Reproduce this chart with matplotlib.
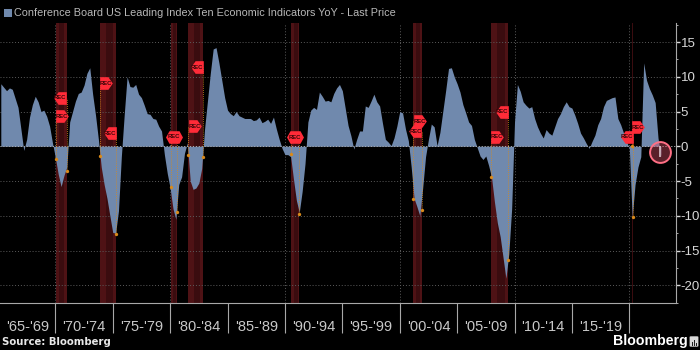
import numpy as np
import matplotlib
matplotlib.use("Agg")
import matplotlib.pyplot as plt
from matplotlib.patches import FancyBboxPatch, Rectangle

# quarterly readings, one row per five year block
yoy_65_69 = [9.0, 8.5, 8.0, 8.4, 8.2, 6.9, 5.6, 2.5, -0.6, 1.0, 4.2, 6.0, 7.2, 6.4, 5.0, 5.2, 4.3, 2.9, 0.5, -1.6]
yoy_70_74 = [-4.0, -5.8, -4.2, -3.0, 3.5, 5.0, 6.5, 7.6, 7.8, 8.8, 10.5, 11.3, 7.5, 4.5, 1.0, -3.0, -5.5, -7.5, -10.0, -12.4]
yoy_75_79 = [-12.5, -9.3, -1.5, 4.5, 10.0, 8.6, 8.5, 8.9, 7.5, 7.0, 5.9, 4.7, 4.6, 4.0, 3.9, 2.9, 2.2, -1.2, -3.9, -6.0]
yoy_80_84 = [-9.0, -10.5, -5.5, -4.4, -1.0, 0.5, -5.0, -6.2, -6.0, -5.3, -3.2, 2.5, 6.5, 10.5, 14.0, 14.2, 12.0, 9.5, 7.0, 5.2]
yoy_85_89 = [4.7, 4.4, 5.0, 4.4, 4.2, 4.0, 4.0, 4.0, 3.7, 3.8, 4.2, 3.4, 3.6, 3.9, 3.3, 4.2, 2.5, 1.0, -0.3, -1.2]
yoy_90_94 = [-1.2, -1.5, -4.8, -7.8, -9.5, -6.5, -2.5, 3.5, 5.2, 5.6, 5.3, 7.8, 7.2, 6.5, 6.6, 6.4, 7.6, 8.4, 8.9, 8.0]
yoy_95_99 = [5.5, 3.0, 1.5, -0.4, 1.0, 2.2, 2.2, 5.8, 5.6, 6.5, 7.5, 6.4, 5.8, 3.3, 1.0, 0.6, 0.1, 1.2, 2.9, 5.0]
yoy_00_04 = [4.8, 2.5, 0.8, -3.0, -7.5, -8.7, -10.0, -6.0, -1.5, 1.0, 3.2, 2.8, 0.1, 2.0, 5.0, 8.0, 11.2, 11.3, 10.0, 9.0]
yoy_05_09 = [7.8, 6.0, 4.8, 3.5, 3.0, 1.0, -0.2, -1.4, -1.9, -1.4, -2.8, -4.5, -8.0, -11.0, -13.0, -16.0, -19.0, -15.5, -9.0, 3.5]
yoy_10_14 = [8.9, 7.9, 6.4, 5.9, 5.5, 5.7, 4.0, 2.8, 1.9, 1.2, 2.4, 1.9, 1.6, 2.8, 4.0, 4.7, 5.7, 6.4, 5.7, 5.5]
yoy_15_19 = [4.5, 3.3, 1.9, 1.2, 0.4, -0.3, 0.7, 1.6, 3.1, 4.0, 5.7, 6.6, 6.8, 7.0, 7.1, 4.0, 3.1, 1.9, 0.7, -0.3]
yoy_20_22 = [-10.2, -5.5, -3.0, -1.5, 12.0, 9.5, 8.3, 7.4, 6.3, 1.2, -1.5]

recession_start = [1970.03, 1973.89, 1980.08, 1981.59, 1990.53, 2001.18, 2007.95, 2020.23]
recession_end = [1970.98, 1975.29, 1980.63, 1982.89, 1991.25, 2001.92, 2009.46, 2020.35]
start_dot = [-1.8, -1.4, -5.8, -1.3, -1.1, -7.6, -4.4, 0.0]
end_dot = [-3.5, -12.6, -9.5, -1.5, -9.8, -9.2, -16.4, -10.2]
start_flag = [4.4, 9.15, 1.4, 2.9, 1.3, 3.6, 1.4, 2.8]
end_flag = [7.0, 1.9, 1.4, 11.4, 1.3, 2.2, 5.0, 1.4]

period_labels = ["'65-'69", "'70-'74", "'75-'79", "'80-'84", "'85-'89", "'90-'94",
                 "'95-'99", "'00-'04", "'05-'09", "'10-'14", "'15-'19"]
period_edges = [1965.18, 1970, 1975, 1980, 1985, 1990, 1995, 2000, 2005, 2010, 2015, 2020]
decades = [1970, 1980, 1990, 2000, 2010, 2020]
title = "Conference Board US Leading Index Ten Economic Indicators YoY - Last Price"

BLUE = "#7089ad"
GREY = "#a8a8a8"
GRID = "#5c5c5c"
RED = "#ff2b38"
ORANGE = "#d98a1a"
FONT = "Liberation Sans"

RIGHT_FLAG = [(-1, -1), (0.3, -1), (1, 0), (0.3, 1), (-1, 1)]
LEFT_FLAG = [(1, -1), (-0.3, -1), (-1, 0), (-0.3, 1), (1, 1)]
BOTH_FLAG = [(-1.35, 0), (-0.8, -1), (0.8, -1), (1.35, 0), (0.8, 1), (-0.8, 1)]


def draw_flag(ax, x, y, marker, size):
    ax.plot([x], [y], marker=marker, ms=size, mfc=RED, mec="none", zorder=6, clip_on=False)
    ax.text(x, y - 0.05, "REC", color="#3a0508", fontsize=4.2, fontweight="bold", family=FONT,
            ha="center", va="center", zorder=7)


def main():
    yoy = (yoy_65_69 + yoy_70_74 + yoy_75_79 + yoy_80_84 + yoy_85_89 + yoy_90_94
           + yoy_95_99 + yoy_00_04 + yoy_05_09 + yoy_10_14 + yoy_15_19 + yoy_20_22)
    years = 1965.25 + 0.25 * np.arange(len(yoy))

    fig = plt.figure(figsize=(7, 3.5), dpi=100, facecolor="black")
    ax = fig.add_axes([0, 47 / 350, 675.7 / 700, 280 / 350], facecolor="black")
    ax.set_xlim(1965.18, 2024.04)
    ax.set_ylim(-22.55, 17.74)

    for x0, x1 in zip(recession_start, recession_end):
        ax.axvspan(x0, x1, color="#4e1215", lw=0, zorder=1)
        w = x1 - x0
        ax.axvspan(x0 + 0.35 * w, x1 - 0.2 * w, color="#3a0c0f", lw=0, zorder=1.1)

    ax.set_yticks(np.arange(-20, 16, 5))
    ax.set_yticks(np.arange(-22.5, 18, 2.5), minor=True)
    ax.grid(axis="y", which="major", color=GRID, lw=0.7, ls=(0, (1, 2)), zorder=2)
    for d in decades:
        ax.axvline(d, color=GRID, lw=0.7, ls=(0, (1, 2)), zorder=2)

    ax.fill_between(years, yoy, 0, color=BLUE, lw=0, zorder=3)
    ax.axhline(0, color="#b0b0b0", lw=0.7, ls=(0, (1, 2)), zorder=4)

    # recession start/end annotations
    for i in range(len(recession_start)):
        x0, x1 = recession_start[i], recession_end[i]
        ax.vlines([x0, x1], [start_dot[i], end_dot[i]], [start_flag[i], end_flag[i]],
                  color=ORANGE, lw=0.6, ls=(0, (1, 1.5)), zorder=5)
        ax.plot([x0, x1], [start_dot[i], end_dot[i]], "o", ms=2.4, color=ORANGE, mec="none", zorder=5)
        if start_flag[i] == end_flag[i]:
            draw_flag(ax, (x0 + x1) / 2, start_flag[i], BOTH_FLAG, 12.2)
        else:
            draw_flag(ax, x0 + 0.55, start_flag[i], RIGHT_FLAG, 9.1)
            draw_flag(ax, x1 - 0.55, end_flag[i], LEFT_FLAG, 9.1)

    # last price circle
    ax.plot([years[-1] - 0.1], [-0.85], "o", ms=15, mfc=(0.85, 0.3, 0.4, 0.42), mew=1.4, mec="#ff6f85", zorder=6)
    ax.vlines(years[-1] - 0.1, 0, yoy[-1], color="#d9c3ca", lw=1.2, zorder=7)

    for side in ["top", "left"]:
        ax.spines[side].set_visible(False)
    ax.spines["right"].set_color(GREY)
    ax.spines["bottom"].set_color(GREY)

    ax.yaxis.tick_right()
    ax.set_yticklabels([str(v) for v in np.arange(-20, 16, 5)], fontsize=9.5, color="#d8d8d8", family=FONT)
    ax.tick_params(axis="y", which="major", length=3, width=1, color="#d8d8d8", pad=0.5)
    ax.tick_params(axis="y", which="minor", length=1.5, width=0.7, color=GREY)

    ax.set_xticks(period_edges[1:])
    ax.set_xticklabels([])
    ax.tick_params(axis="x", which="major", length=21.6, width=0.8, color=GREY)
    centers = [(a + b) / 2 for a, b in zip(period_edges[:-1], period_edges[1:])]
    ax.set_xticks(centers, minor=True)
    ax.set_xticklabels(period_labels, minor=True, fontsize=10.5, color="#c8c8c8", family=FONT)
    ax.tick_params(axis="x", which="minor", length=0, pad=12)

    fig.patches.append(Rectangle((4 / 700, 1 - 16.5 / 350), 7.5 / 700, 7.5 / 350, transform=fig.transFigure,
                                 color=BLUE, lw=0))
    fig.text(13.5 / 700, 1 - 13 / 350, title, color="#b8b8b8", fontsize=7.8, family=FONT, va="center")
    fig.text(2 / 700, 1 - 342 / 350, "Source: Bloomberg", color="#e8e8e8", fontsize=7.3, fontweight="bold",
             family="DejaVu Sans", va="center")
    fig.text(613 / 700, 1 - 341 / 350, "Bloomberg", color="white", fontsize=10.2, fontweight="bold", family=FONT,
             va="center")
    fig.patches.append(FancyBboxPatch((691 / 700, 1 - 346 / 350), 6 / 700, 9 / 350, transform=fig.transFigure,
                                      boxstyle="round,pad=0.002", color="#d8d8d8", lw=0))
    for bar_x, bar_h in zip([692, 694, 696], [4, 6, 3]):
        fig.patches.append(Rectangle((bar_x / 700, 1 - 345.5 / 350), 1 / 700, bar_h / 350,
                                     transform=fig.transFigure, color="#222222", lw=0))

    fig.savefig("out.png", dpi=100, facecolor="black")


if __name__ == "__main__":
    main()
